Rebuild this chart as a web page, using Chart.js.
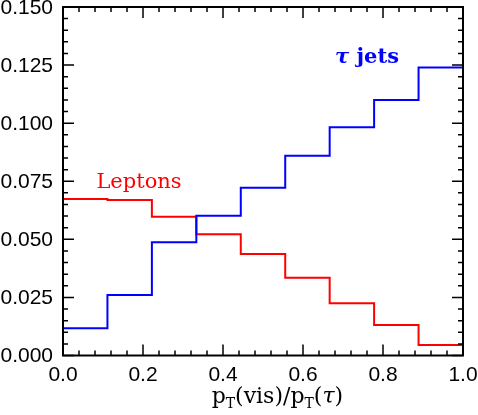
<!DOCTYPE html>
<html>
<head>
<meta charset="utf-8">
<script src="https://cdn.jsdelivr.net/npm/chart.js@4/dist/chart.umd.min.js"></script>
<style>
  html, body { margin: 0; padding: 0; background: #fff; }
  #wrap { width: 478px; height: 415px; position: relative; }
</style>
</head>
<body>
<div id="wrap"><canvas id="c" width="478" height="415"></canvas></div>
<script>
// Bin edges (9 equal bins from 0 to 1)
const binEdges = [0, 1/9, 2/9, 3/9, 4/9, 5/9, 6/9, 7/9, 8/9, 1];

// Histogram contents per bin
const tauJets = [0.0117, 0.0260, 0.0487, 0.0602, 0.0722, 0.0860, 0.0982, 0.1100, 0.1240];
const leptons = [0.0674, 0.0669, 0.0597, 0.0522, 0.0437, 0.0335, 0.0225, 0.0131, 0.0045];

// Axis ticks
const xTicks = [0.0, 0.2, 0.4, 0.6, 0.8, 1.0];
const yTicks = [0.000, 0.025, 0.050, 0.075, 0.100, 0.125, 0.150];

const SERIF = "'DejaVu Serif', 'Liberation Serif', serif";
const SANS = "'Liberation Sans', Arial, sans-serif";

// step points: left edge of each bin + closing point at the last edge
function stepPoints(vals) {
  const pts = vals.map((v, i) => ({ x: binEdges[i], y: v }));
  pts.push({ x: binEdges[binEdges.length - 1], y: vals[vals.length - 1] });
  return pts;
}

// frame, inward ticks on all four sides, tick labels
const framePlugin = {
  id: "frame",
  afterDatasetsDraw(chart) {
    const { ctx, chartArea: a, scales } = chart;
    const xs = scales.x, ys = scales.y;
    ctx.save();
    ctx.strokeStyle = "#000";
    ctx.lineWidth = 2;
    ctx.strokeRect(a.left, a.top, a.right - a.left, a.bottom - a.top);

    ctx.lineWidth = 1.5;
    ctx.beginPath();
    // x ticks: major 0.2, minor 0.04
    for (let i = 0; i <= 25; i++) {
      const px = xs.getPixelForValue(i * 0.04);
      const len = i % 5 === 0 ? 11 : 5;
      ctx.moveTo(px, a.bottom); ctx.lineTo(px, a.bottom - len);
      ctx.moveTo(px, a.top); ctx.lineTo(px, a.top + len);
    }
    // y ticks: major 0.025, minor 0.005
    for (let i = 0; i <= 30; i++) {
      const py = ys.getPixelForValue(i * 0.005);
      const len = i % 5 === 0 ? 11 : 5;
      ctx.moveTo(a.left, py); ctx.lineTo(a.left + len, py);
      ctx.moveTo(a.right, py); ctx.lineTo(a.right - len, py);
    }
    ctx.stroke();

    // tick labels
    ctx.fillStyle = "#000";
    ctx.font = "21px " + SANS;
    ctx.textBaseline = "middle";
    ctx.textAlign = "right";
    yTicks.forEach(v => ctx.fillText(v.toFixed(3), a.left - 10, ys.getPixelForValue(v) + 1));
    ctx.textAlign = "center";
    xTicks.forEach(v => ctx.fillText(v.toFixed(1), xs.getPixelForValue(v), a.bottom + 20));
    ctx.restore();
  }
};

// series labels and the x-axis title with subscripts
const textPlugin = {
  id: "texts",
  afterDraw(chart) {
    const { ctx, chartArea: a, scales } = chart;
    const xs = scales.x, ys = scales.y;
    ctx.save();
    ctx.textBaseline = "alphabetic";
    ctx.textAlign = "center";

    ctx.fillStyle = "#ff0000";
    ctx.font = "21px " + SERIF;
    ctx.fillText("Leptons", xs.getPixelForValue(0.19), ys.getPixelForValue(0.0719));

    ctx.fillStyle = "#0000ff";
    const tx = xs.getPixelForValue(0.76), ty = ys.getPixelForValue(0.1257);
    ctx.font = "italic bold 21px " + SERIF;
    const tauW = ctx.measureText("τ").width;
    ctx.font = "bold 21px " + SERIF;
    const jetsW = ctx.measureText(" jets").width;
    const sx = tx - (tauW + jetsW) / 2;
    ctx.textAlign = "left";
    ctx.font = "italic bold 21px " + SERIF;
    ctx.fillText("τ", sx, ty);
    ctx.font = "bold 21px " + SERIF;
    ctx.fillText(" jets", sx + tauW, ty);

    // x title: p_T(vis)/p_T(τ)
    ctx.fillStyle = "#000";
    const parts = [
      { t: "p", f: "22px " + SERIF, dy: 0 },
      { t: "T", f: "14px " + SERIF, dy: 5 },
      { t: "(vis)/p", f: "22px " + SERIF, dy: 0 },
      { t: "T", f: "14px " + SERIF, dy: 5 },
      { t: "(", f: "22px " + SERIF, dy: 0 },
      { t: "τ", f: "italic 22px " + SERIF, dy: 0 },
      { t: ")", f: "22px " + SERIF, dy: 0 }
    ];
    let total = 0;
    parts.forEach(p => { ctx.font = p.f; p.w = ctx.measureText(p.t).width; total += p.w; });
    let x = xs.getPixelForValue(0.536) - total / 2;
    const y = a.bottom + 47;
    parts.forEach(p => { ctx.font = p.f; ctx.fillText(p.t, x, y + p.dy); x += p.w; });
    ctx.restore();
  }
};

new Chart(document.getElementById("c"), {
  type: "line",
  data: {
    datasets: [
      {
        label: "τ jets",
        data: stepPoints(tauJets),
        borderColor: "#0000ff",
        borderWidth: 2,
        stepped: true,
        pointRadius: 0,
        fill: false
      },
      {
        label: "Leptons",
        data: stepPoints(leptons),
        borderColor: "#ff0000",
        borderWidth: 2,
        stepped: true,
        pointRadius: 0,
        fill: false
      }
    ]
  },
  options: {
    responsive: false,
    animation: false,
    layout: { padding: { top: 7, right: 15, left: 0, bottom: 0 } },
    plugins: { legend: { display: false }, tooltip: { enabled: false } },
    scales: {
      x: {
        type: "linear",
        min: 0,
        max: 1,
        grid: { display: false },
        border: { display: false },
        ticks: { display: false },
        afterFit: (s) => { s.height = 59.5; }
      },
      y: {
        type: "linear",
        min: 0,
        max: 0.15,
        grid: { display: false },
        border: { display: false },
        ticks: { display: false },
        afterFit: (s) => { s.width = 63; }
      }
    }
  },
  plugins: [framePlugin, textPlugin]
});
</script>
</body>
</html>
